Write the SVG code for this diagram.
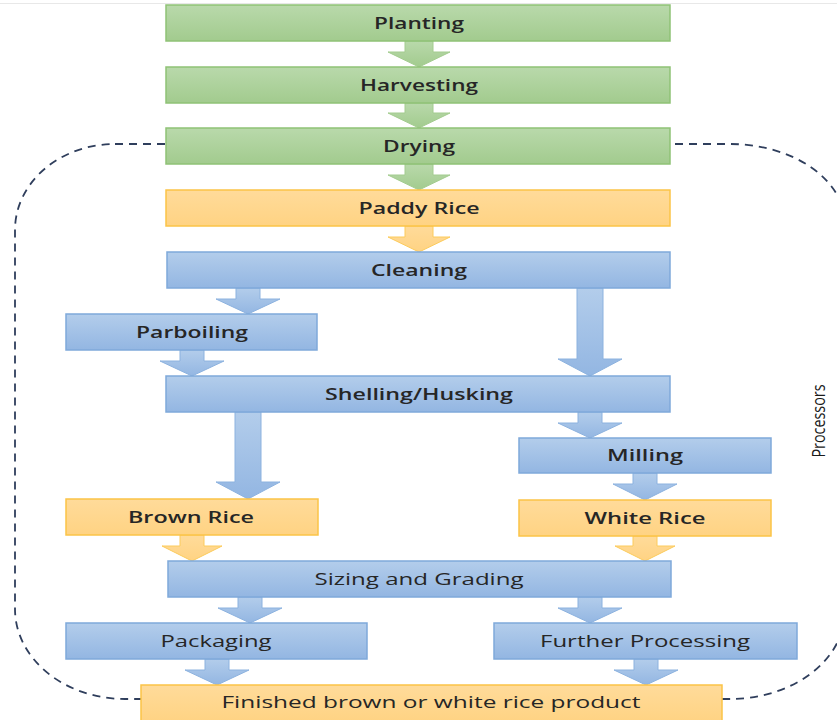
<svg xmlns="http://www.w3.org/2000/svg" width="837" height="720" viewBox="0 0 837 720">
  <defs>
    <linearGradient id="gGreen" x1="0" y1="0" x2="0" y2="1">
      <stop offset="0" stop-color="#B9D9AB"/>
      <stop offset="1" stop-color="#A2CB8E"/>
    </linearGradient>
    <linearGradient id="gOrange" x1="0" y1="0" x2="0" y2="1">
      <stop offset="0" stop-color="#FFDB9A"/>
      <stop offset="1" stop-color="#FFD383"/>
    </linearGradient>
    <linearGradient id="gBlue" x1="0" y1="0" x2="0" y2="1">
      <stop offset="0" stop-color="#B3CDEB"/>
      <stop offset="1" stop-color="#93B6E2"/>
    </linearGradient>
  </defs>
  <style>
    .green { fill: url(#gGreen); stroke: #8FC276; stroke-width: 1.5; }
    .orange { fill: url(#gOrange); stroke: #FBC447; stroke-width: 1.5; }
    .blue { fill: url(#gBlue); stroke: #7FA9DA; stroke-width: 1.5; }
    .agreen { fill: url(#gGreen); stroke: #A3CC8F; stroke-width: 1; }
    .aorange { fill: url(#gOrange); stroke: #FCCB5C; stroke-width: 1; }
    .ablue { fill: url(#gBlue); stroke: #8CB2DF; stroke-width: 1; }
    .lbl { font-family: "Open Sans", "Liberation Sans", sans-serif; font-size: 17px; fill: #262626; text-anchor: middle; }
    .b { font-weight: 600; }
    .r { font-weight: 400; }
    .boundary { fill: none; stroke: #2F3E5C; stroke-width: 1.8; stroke-dasharray: 8 6; }
    .side { font-family: "Open Sans", "Liberation Sans", sans-serif; font-size: 17.5px; fill: #1a1a1a; text-anchor: middle; }
  </style>

  <rect x="0" y="0" width="837" height="720" fill="#ffffff"/>
  <line x1="0" y1="3.5" x2="837" y2="3.5" stroke="#E8E8E8" stroke-width="1"/>

  <g id="processors-boundary">
    <path class="boundary" d="M 115,144 L 730,144 A 115,80 0 0 1 845,224 L 845,611 A 115,88 0 0 1 730,699 L 125,699 A 110,90 0 0 1 15,609 L 15,230 A 100,86 0 0 1 115,144 Z"/>
    <text class="side" transform="translate(825,421) rotate(-90)" x="0" y="0" textLength="73" lengthAdjust="spacingAndGlyphs">Processors</text>
  </g>

  <g id="connectors">
    <polygon class="agreen" points="405,41 433,41 433,52 450,52 419,67 388,52 405,52"/>
    <polygon class="agreen" points="405,103 433,103 433,113 450,113 419,128 388,113 405,113"/>
    <polygon class="agreen" points="405,164 433,164 433,175 450,175 419,190 388,175 405,175"/>
    <polygon class="aorange" points="405,226 433,226 433,237 450,237 419,252 388,237 405,237"/>
    <polygon class="ablue" points="236,288 260,288 260,299 280,299 248,314 216,299 236,299"/>
    <polygon class="ablue" points="180,350 204,350 204,361 224,361 192,376 160,361 180,361"/>
    <polygon class="ablue" points="577,288 603,288 603,359 622,359 590,376 558,359 577,359"/>
    <polygon class="ablue" points="578,412 602,412 602,423 622,423 590,438 558,423 578,423"/>
    <polygon class="ablue" points="235,412 261,412 261,482 280,482 248,499 216,482 235,482"/>
    <polygon class="ablue" points="633,473 657,473 657,484 677,484 645,500 613,484 633,484"/>
    <polygon class="aorange" points="180,535 204,535 204,546 222,546 192,561 162,546 180,546"/>
    <polygon class="aorange" points="633,536 657,536 657,546 675,546 645,561 615,546 633,546"/>
    <polygon class="ablue" points="238,597 262,597 262,608 282,608 250,623 218,608 238,608"/>
    <polygon class="ablue" points="578,597 602,597 602,608 622,608 590,623 558,608 578,608"/>
    <polygon class="ablue" points="205,659 229,659 229,670 249,670 217,685 185,670 205,670"/>
    <polygon class="ablue" points="634,659 658,659 658,670 678,670 646,685 614,670 634,670"/>
  </g>

  <g id="planting">
    <rect class="green" x="166" y="5" width="504" height="36"/>
    <text class="lbl b" x="419" y="28.5" textLength="90" lengthAdjust="spacingAndGlyphs">Planting</text>
  </g>
  <g id="harvesting">
    <rect class="green" x="166" y="67" width="504" height="36"/>
    <text class="lbl b" x="419" y="90.5" textLength="118" lengthAdjust="spacingAndGlyphs">Harvesting</text>
  </g>
  <g id="drying">
    <rect class="green" x="166" y="128" width="504" height="36"/>
    <text class="lbl b" x="419" y="151.5" textLength="72" lengthAdjust="spacingAndGlyphs">Drying</text>
  </g>
  <g id="paddy-rice">
    <rect class="orange" x="166" y="190" width="504" height="36"/>
    <text class="lbl b" x="419" y="213.5" textLength="121" lengthAdjust="spacingAndGlyphs">Paddy Rice</text>
  </g>
  <g id="cleaning">
    <rect class="blue" x="167" y="252" width="503" height="36"/>
    <text class="lbl b" x="419" y="275.5" textLength="96" lengthAdjust="spacingAndGlyphs">Cleaning</text>
  </g>
  <g id="parboiling">
    <rect class="blue" x="66" y="314" width="251" height="36"/>
    <text class="lbl b" x="192" y="337.5" textLength="112" lengthAdjust="spacingAndGlyphs">Parboiling</text>
  </g>
  <g id="shelling-husking">
    <rect class="blue" x="166" y="376" width="504" height="36"/>
    <text class="lbl b" x="419" y="399.5" textLength="188" lengthAdjust="spacingAndGlyphs">Shelling/Husking</text>
  </g>
  <g id="milling">
    <rect class="blue" x="519" y="438" width="252" height="35"/>
    <text class="lbl b" x="645" y="461" textLength="76" lengthAdjust="spacingAndGlyphs">Milling</text>
  </g>
  <g id="brown-rice">
    <rect class="orange" x="66" y="499" width="252" height="36"/>
    <text class="lbl b" x="191" y="522.5" textLength="126" lengthAdjust="spacingAndGlyphs">Brown Rice</text>
  </g>
  <g id="white-rice">
    <rect class="orange" x="519" y="500" width="252" height="36"/>
    <text class="lbl b" x="645" y="523.5" textLength="121" lengthAdjust="spacingAndGlyphs">White Rice</text>
  </g>
  <g id="sizing-grading">
    <rect class="blue" x="168" y="561" width="503" height="36"/>
    <text class="lbl r" x="419" y="584.5" textLength="209" lengthAdjust="spacingAndGlyphs">Sizing and Grading</text>
  </g>
  <g id="packaging">
    <rect class="blue" x="66" y="623" width="301" height="36"/>
    <text class="lbl r" x="216" y="646.5" textLength="111" lengthAdjust="spacingAndGlyphs">Packaging</text>
  </g>
  <g id="further-processing">
    <rect class="blue" x="494" y="623" width="303" height="36"/>
    <text class="lbl r" x="645" y="646.5" textLength="210" lengthAdjust="spacingAndGlyphs">Further Processing</text>
  </g>
  <g id="finished-product">
    <rect class="orange" x="141" y="685" width="581" height="37"/>
    <text class="lbl r" x="431" y="708" textLength="419" lengthAdjust="spacingAndGlyphs">Finished brown or white rice product</text>
  </g>
</svg>
